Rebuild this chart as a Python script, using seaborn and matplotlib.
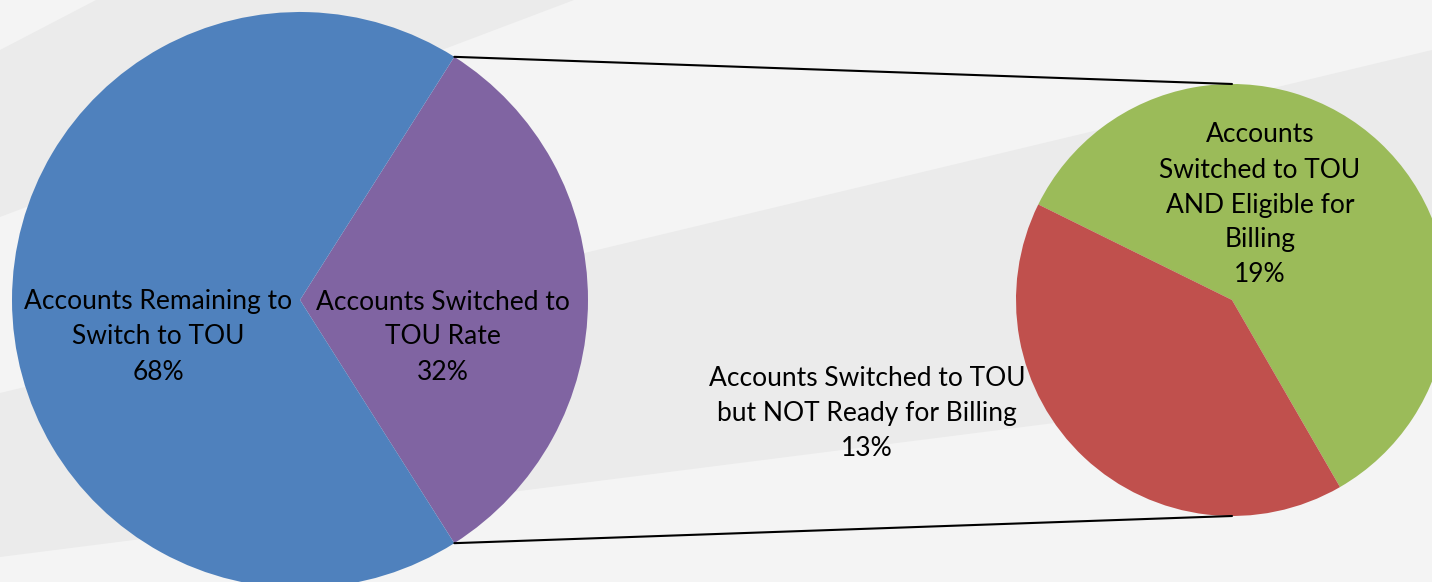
import numpy as np
import matplotlib
matplotlib.use("Agg")
import matplotlib.pyplot as plt
import seaborn as sns

# data
main_labels = ["Accounts Switched to\nTOU Rate", "Accounts Remaining to\nSwitch to TOU"]
main_values = [32, 68]
sub_labels = ["Accounts\nSwitched to TOU\nAND Eligible for\nBilling", "Accounts Switched to TOU\nbut NOT Ready for Billing"]
sub_values = [19, 13]

main_colors = ["#8064A2", "#4F81BD"]
sub_colors = ["#9BBB59", "#C0504D"]

sns.set_style("white")
plt.rcParams["font.family"] = ["Lato", "DejaVu Sans"]

W, H = 1432, 582
fig = plt.figure(figsize=(W / 100, H / 100), dpi=100)
fig.patch.set_facecolor("#F4F4F4")
ax = fig.add_axes([0, 0, 1, 1])


def img(x, y):
    # picture coords (y down) -> data coords
    return (x, H - y)


# background bands
band_a = [img(0, 50), img(96, 0), img(574, 0), img(0, 217)]
band_b = [img(0, 393), img(1432, 50), img(1432, 375), img(0, 557)]
for poly in (band_a, band_b):
    ax.add_patch(plt.Polygon(poly, closed=True, facecolor="#EBEBEB", edgecolor="none", zorder=0))

main_c = img(300, 300)
main_r = 288
sub_c = img(1232, 300)
sub_r = 216

main_start = -180 * main_values[0] / 100
ax.pie(main_values, colors=main_colors, startangle=main_start, counterclock=True,
       center=main_c, radius=main_r, frame=True,
       wedgeprops=dict(linewidth=0, zorder=2))
ax.pie(sub_values, colors=sub_colors, startangle=-60, counterclock=True,
       center=sub_c, radius=sub_r, frame=True,
       wedgeprops=dict(linewidth=0, zorder=2))

# connector lines
ang = np.deg2rad(180 * main_values[0] / 100)
p_top = (main_c[0] + main_r * np.cos(ang), main_c[1] + main_r * np.sin(ang))
p_bot = (main_c[0] + main_r * np.cos(ang), main_c[1] - main_r * np.sin(ang))
ax.plot([p_top[0], sub_c[0]], [p_top[1], sub_c[1] + sub_r], color="black", lw=1.5, zorder=3)
ax.plot([p_bot[0], sub_c[0]], [p_bot[1], sub_c[1] - sub_r], color="black", lw=1.5, zorder=3)

fs = 19
ls = 1.5
total = sum(main_values)
txt = dict(ha="center", va="center", fontsize=fs, linespacing=ls, color="black", zorder=4)
ax.text(*img(158, 337), f"{main_labels[1]}\n{main_values[1] * 100 // total}%", **txt)
ax.text(*img(443, 337), f"{main_labels[0]}\n{main_values[0] * 100 // total}%", **txt)
ax.text(*img(1260, 205), f"{sub_labels[0]}\n{sub_values[0]}%", **txt)
ax.text(*img(867, 414), f"{sub_labels[1]}\n{sub_values[1]}%", **txt)

ax.set_xlim(0, W)
ax.set_ylim(0, H)
ax.set_aspect("equal")
ax.axis("off")

fig.savefig("out.png", dpi=100, facecolor=fig.get_facecolor())
